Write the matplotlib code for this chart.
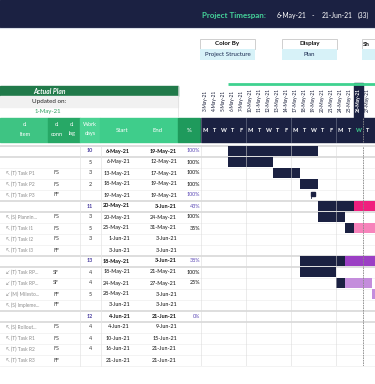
import matplotlib.pyplot as plt
import matplotlib.transforms as mtransforms
from matplotlib.patches import Rectangle
import numpy as np
import pandas as pd

plt.rcParams['font.family'] = ['Lato', 'DejaVu Sans']

# ---- table data ----
arrows = ["", "", "↖", "↖", "↖", "", "↖", "↖", "↖", "↖",
          "", "↙", "↙", "↙", "↖", "", "↖", "↖", "↖", "↖"]
items = ["", "", "(T) Task P1", "(T) Task P2", "(T) Task P3",
         "", "(S) Plannin...", "(T) Task I1", "(T) Task I2", "(T) Task I3",
         "", "(T) Task RP...", "(T) Task RP...", "(M) Milesto...", "(S) Impleme...",
         "", "(S) Rollout...", "(T) Task R1", "(T) Task R2", "(T) Task R3"]
conns = ["", "", "FS", "FS", "FF", "", "FS", "FS", "FS", "FF",
         "", "SF", "SF", "FF", "FF", "", "FS", "FS", "FS", "FF"]
work_days = ["10", "5", "3", "2", "", "11", "3", "5", "3", "",
             "13", "4", "4", "5", "", "12", "4", "4", "4", ""]
starts = ["6-May-21", "6-May-21", "13-May-21", "18-May-21", "19-May-21",
          "20-May-21", "20-May-21", "25-May-21", "1-Jun-21", "3-Jun-21",
          "18-May-21", "18-May-21", "24-May-21", "28-May-21", "3-Jun-21",
          "4-Jun-21", "4-Jun-21", "10-Jun-21", "16-Jun-21", "21-Jun-21"]
ends = ["19-May-21", "12-May-21", "17-May-21", "19-May-21", "19-May-21",
        "3-Jun-21", "24-May-21", "31-May-21", "3-Jun-21", "3-Jun-21",
        "3-Jun-21", "21-May-21", "27-May-21", "3-Jun-21", "3-Jun-21",
        "21-Jun-21", "9-Jun-21", "15-Jun-21", "21-Jun-21", "21-Jun-21"]
percents = ["100%", "100%", "100%", "100%", "100%", "43%", "100%", "35%", "", "",
            "38%", "100%", "25%", "", "", "0%", "", "", "", ""]
done_days = [10, 5, 3, 2, 0, 4, 3, 1, 0, 0, 5, 4, 1, 0, 0, 0, 0, 0, 0, 0]
summary_rows = [0, 5, 10, 15]
milestone_rows = [4, 9, 14, 19]

# ---- timeline header ----
day_labels = ["3-May-21", "4-May-21", "5-May-21", "6-May-21", "7-May-21",
              "10-May-21", "11-May-21", "12-May-21", "13-May-21", "14-May-21",
              "17-May-21", "18-May-21", "19-May-21", "20-May-21", "21-May-21",
              "24-May-21", "25-May-21", "26-May-21", "27-May-21"]
day_letters = ["M", "T", "W", "T", "F"] * 3 + ["M", "T", "W", "T"]
today = "26-May-21"
first_day = "3-May-21"

navy = '#1b2142'
# remaining-work colours per group: (summary, task)
group_colors = [(navy, navy), ('#f01f7e', '#f783bb'), ('#9b3fc4', '#c48ddc'), ('#2aa7c9', '#8fd3e6')]


def col(d):
    d0 = pd.to_datetime(first_day, format='%d-%b-%y').date()
    d1 = pd.to_datetime(d, format='%d-%b-%y').date()
    return np.busday_count(d0, d1)


W, H = 375, 384
fig = plt.figure(figsize=(3.75, 3.84), dpi=100)
bg = fig.add_axes([0, 0, 1, 1])
bg.set_xlim(0, W)
bg.set_ylim(H, 0)
bg.axis('off')

gx0, gx1, col_w = 201, 375, 9
row_top, row_h = 145.5, 11
n = len(starts)
g = fig.add_axes([gx0 / W, 1 - (row_top + row_h * n) / H, (gx1 - gx0) / W, row_h * n / H])
g.set_xlim(0, (gx1 - gx0) / col_w)
g.set_ylim(n, 0)
g.axis('off')
g.patch.set_visible(False)
gt = mtransforms.blended_transform_factory(g.transData, bg.transData)

# ---- top band ----
bg.add_patch(Rectangle((0, 0), W, 27, color=navy))
bg.text(202, 15.5, "Project Timespan:", color='#45d29a', fontsize=5.8, fontweight='bold', va='center')
bg.text(277, 15.5, starts[0], color='white', fontsize=4.9, va='center')
bg.text(312, 15.5, "-", color='white', fontsize=4.9, va='center')
bg.text(322, 15.5, ends[15], color='white', fontsize=4.9, va='center')
bg.text(358, 15.5, "(33)", color='white', fontsize=4.9, va='center')
bg.axhline(28, color='#d8dde6', lw=0.8)

# controls
for x0, head, val in [(200, "Color By", "Project Structure"), (282, "Display", "Plan"), (362, "Sh", "")]:
    bg.add_patch(Rectangle((x0, 39), 55, 10, facecolor='white', edgecolor='#c8c8c8', lw=0.6))
    bg.add_patch(Rectangle((x0, 49), 55, 11, facecolor='#d7f2f8', edgecolor='none'))
    short = len(head) < 3
    bg.text(x0 + 1 if short else x0 + 27.5, 44, head, fontsize=4.5, fontweight='bold',
            color='#111', ha='left' if short else 'center', va='center')
    bg.text(x0 + 27.5, 54.5, val, fontsize=4.4, color='#1a2a50', ha='center', va='center')

# left block
bg.add_patch(Rectangle((0, 86), 178, 10, color='#217a4a'))
bg.text(50, 91, "Actual Plan", color='white', fontsize=4.8, fontweight='bold', style='italic',
        ha='center', va='center')
bg.add_patch(Rectangle((0, 96), 178, 11, color='#f1f1f1'))
bg.text(32, 101.5, "Updated on:", color='#222', fontsize=4.5, va='center')
bg.text(48, 112, "1-May-21", color='#2e9e5e', fontsize=4.3, ha='center', va='center')
bg.plot([178, 178], [86, 117], color='#dddddd', lw=0.5)

# table header
hdr = [(0, 48, '#3ec483', ["d.", "Item"], 25), (48, 80, '#27a866', None, None),
       (80, 100, '#4ad393', ["Work", "days"], 90), (100, 178, '#3fcd8b', None, None),
       (178, 200, '#1f9a5c', ["%"], 189)]
for x0, x1, c, lab, cx in hdr:
    bg.add_patch(Rectangle((x0, 118), x1 - x0, 24, color=c))
    if lab:
        if len(lab) == 2:
            bg.text(cx, 125, lab[0], color='white', fontsize=4.1, ha='center', va='center')
            bg.text(cx, 134, lab[1], color='white', fontsize=4.1, ha='center', va='center')
        else:
            bg.text(cx, 130, lab[0], color='white', fontsize=4.3, ha='center', va='center')
for cx, lab in [(57, ["d.", "conn"]), (72, ["d.", "lag"])]:
    bg.text(cx, 125, lab[0], color='white', fontsize=4.1, ha='center', va='center')
    bg.text(cx, 134, lab[1], color='white', fontsize=4.1, ha='center', va='center')
bg.text(122, 130, "Start", color='white', fontsize=4.3, ha='center', va='center')
bg.text(158, 130, "End", color='white', fontsize=4.3, ha='center', va='center')

# timeline header
bg.add_patch(Rectangle((gx0, 118), gx1 - gx0, 24, color=navy))
ti = col(today)
bg.add_patch(Rectangle((ti, 83), 1, 35, color=navy, transform=gt))
proj_start = min(col(s) for s in starts)
bg.plot([proj_start, 20], [84, 84], color='#3fd18f', lw=2, transform=gt, solid_capstyle='butt')
for i, (lab, let) in enumerate(zip(day_labels, day_letters)):
    is_today = lab == today
    bg.text(i + 0.5, 100, lab, rotation=90, fontsize=3.4, ha='center', va='center',
            color='white' if is_today else '#141a35', fontweight='bold' if is_today else 'normal',
            transform=gt)
    bg.text(i + 0.5, 130, let, fontsize=4.1, ha='center', va='center', fontweight='bold',
            color='#3fd18f' if is_today else 'white', transform=gt)
for wk in range(0, 20, 5):
    bg.plot([wk, wk], [118, 142], color='#5a6078', lw=0.6, transform=gt)

# row grid
y_end = row_top + row_h * n
for i in range(n + 1):
    y = row_top + row_h * i
    thick = i in summary_rows or (i - 1) in summary_rows
    bg.plot([0, W], [y, y], color='#d4d4d4' if thick else '#eeeeee', lw=1.1 if thick else 0.5, zorder=1)
for x in [80, 101]:
    bg.plot([x, x], [row_top, y_end], color='#e4e4e4', lw=0.5)

# table text
for i in range(n):
    y = row_top + row_h * (i + 0.5)
    summ = i in summary_rows
    if items[i]:
        bg.text(6, y, arrows[i] + " " + items[i], fontsize=3.5, color='#8c8c8c', va='center')
    bg.text(53, y, conns[i], fontsize=3.9, color='#444', va='center')
    bg.text(90, y, work_days[i], fontsize=3.9, ha='center', va='center',
            color='#4b3fa0' if summ else '#333', fontweight='bold' if summ else 'normal')
    bg.text(130, y, starts[i], fontsize=3.9, ha='right', va='center', color='#111',
            fontweight='bold' if summ else 'normal')
    bg.text(177, y, ends[i], fontsize=3.9, ha='right', va='center', color='#111',
            fontweight='bold' if summ else 'normal')
    pc = '#5a47b5' if (summ or i in milestone_rows) else '#111'
    bg.text(200, y, percents[i], fontsize=3.9, ha='right', va='center', color=pc)

# gantt bars
for i in range(n):
    s, e = col(starts[i]), col(ends[i]) + 1
    grp = i // 5
    rest = group_colors[grp][0] if i in summary_rows else group_colors[grp][1]
    if i in milestone_rows:
        if percents[i] == "100%":
            g.plot([s + 0.25, s + 0.25], [i + 0.8, i + 0.2], color=navy, lw=0.6)
            g.add_patch(Rectangle((s + 0.25, i + 0.2), 0.45, 0.35, color=navy))
        continue
    d = done_days[i]
    if d > 0:
        g.barh(i + 0.5, d, left=s, height=0.9, color=navy, zorder=2)
    if e - s - d > 0:
        g.barh(i + 0.5, e - s - d, left=s + d, height=0.9, color=rest, zorder=2)

for wk in range(0, 20, 5):
    g.axvline(wk, color='#d9d9d9', lw=0.6, alpha=0.6, zorder=3)
g.axvline(ti + 1, color='#888888', lw=0.6, ls=(0, (2, 1)), zorder=4)
bg.plot([ti + 1, ti + 1], [118, 142], color='#888888', lw=0.6, ls=(0, (2, 1)), transform=gt)

fig.savefig('out.png', dpi=100)
